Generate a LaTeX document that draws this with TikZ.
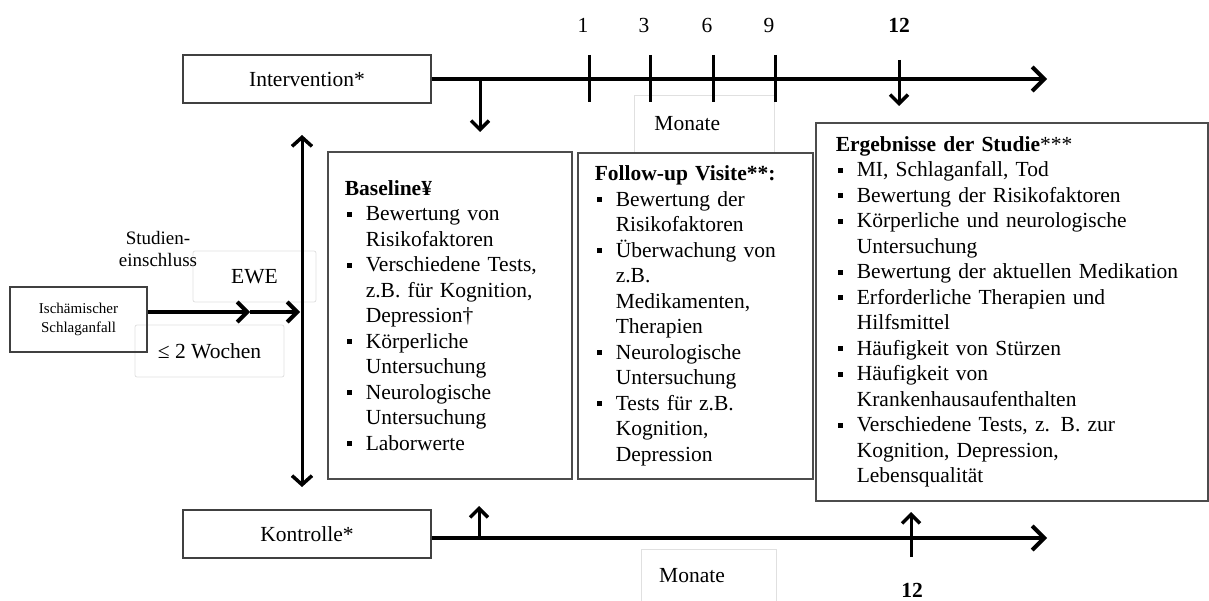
\documentclass[tikz,border=0pt]{standalone}
\usepackage{fontspec}
\setmainfont{Liberation Serif}
\usetikzlibrary{arrows.meta,positioning}

\newcommand{\bul}{\hspace*{2pt}\makebox[19pt][l]{\rule[4pt]{5pt}{5pt}}}
\newcommand{\ind}{\hspace*{21pt}}

\tikzset{
  txt/.style={font=\fontsize{21.5}{25.5}\selectfont},
  txtb/.style={font=\fontsize{21.5}{25.5}\selectfont\bfseries},
  bigbox/.style={txt, draw=black!70, line width=1.6pt, fill=white, anchor=north west, align=left, inner xsep=17pt, inner ysep=0pt},
  armbox/.style={txt, draw=black!75, line width=1.3pt, fill=white, minimum width=248pt, minimum height=48pt},
  softbox/.style={txt, draw=black!12, line width=0.8pt, rounded corners=2pt, fill=white},
  axis/.style={line width=4pt, -{Straight Barb[length=12pt,width=24pt,line width=4pt]}},
  pin/.style={line width=3pt, -{Straight Barb[length=9pt,width=18pt,line width=3.5pt]}},
  tick/.style={line width=3pt},
}

\begin{document}
\begin{tikzpicture}[x=1pt,y=-1pt]
\useasboundingbox (0,0) rectangle (1209,601);

% light boxes
\node[softbox, minimum width=123pt, minimum height=51pt] (ewe) at (254.5,276.5) {EWE};
\node[softbox, minimum width=149pt, minimum height=52pt] (woche) at (209.5,351) {≤ 2 Wochen};
\node[softbox, rounded corners=0pt, anchor=north west, minimum width=140pt, minimum height=57pt,
      text width=100pt, inner xsep=20pt, align=left] (mon1) at (634,95) {Monate};
\node[txt, anchor=north west, minimum width=135pt, minimum height=52pt,
      text width=99pt, inner xsep=18pt, align=left] (mon2) at (641,549) {Monate};
\draw[draw=black!12, line width=0.8pt] (mon2.south west) |- (mon2.north east) -- (mon2.south east);

% arms
\node[armbox] (int) at (307,79) {Intervention*};
\node[armbox] (kon) at (307,534) {Kontrolle*};
\coordinate (intend) at (1047,79);
\coordinate (konend) at (1047,538);
\draw[axis] (int.east) -- (intend);
\draw[axis] (kon.east |- konend) -- (konend);

% months
\foreach \x/\m in {589/1,650/3,713/6,775/9}{
  \node[txt] (m\m) at (\x-6,25) {\m};
  \draw[tick] (\x,55) -- (\x,102);
}
\node[txtb] (m12) at (899,25) {12};
\node[txtb] (b12) at (912,590) {12};

\coordinate (i0) at (480,79);
\coordinate (i0tip) at (480,132);
\coordinate (i12) at (899,60);
\coordinate (i12tip) at (899,106);
\coordinate (k0) at (479,538);
\coordinate (k0tip) at (479,506);
\coordinate (k12) at (911,557);
\coordinate (k12tip) at (911,512);
\draw[pin] (i0) -- (i0tip);
\draw[pin] (i12) -- (i12tip);
\draw[pin] (k0) -- (k0tip);
\draw[pin] (k12) -- (k12tip);

% entry
\node[draw=black!75, line width=1.3pt, minimum width=137pt, minimum height=65pt,
      font=\fontsize{15}{19}\selectfont, align=center] (isch) at (78.5,319.5) {Ischämischer\\Schlaganfall};
\node[font=\fontsize{19}{22}\selectfont, align=center] (einschl) at (158,249) {Studien-\\einschluss};
\coordinate (ewemid) at (250,312);
\coordinate (vin) at (300,312);
\coordinate (vtop) at (302,135);
\coordinate (vbot) at (302,487);
\draw[line width=3pt, {Straight Barb[length=9pt,width=20pt,line width=3.5pt]}-{Straight Barb[length=9pt,width=20pt,line width=3.5pt]}] (vtop) -- (vbot);
\draw[line width=3.5pt, -{Straight Barb[length=10pt,width=20pt,line width=4pt]}] (isch.east |- ewemid) -- (ewemid);
\draw[line width=3.5pt, -{Straight Barb[length=10pt,width=20pt,line width=4pt]}] (ewemid) -- (vin);

% content boxes
\node[bigbox, minimum width=244pt, minimum height=327pt, text width=210pt] (base) at (327,151) {%
\textbf{Baseline¥}\\
\bul Bewertung von\\
\ind Risikofaktoren\\
\bul Verschiedene Tests,\\
\ind z.B. für Kognition,\\
\ind Depression†\\
\bul Körperliche\\
\ind Untersuchung\\
\bul Neurologische\\
\ind Untersuchung\\
\bul Laborwerte};

\node[bigbox, minimum width=235pt, minimum height=326pt, text width=201pt] (fup) at (577,152) {%
\textbf{Follow-up Visite**:}\\
\bul Bewertung der\\
\ind Risikofaktoren\\
\bul Überwachung von\\
\ind z.B.\\
\ind Medikamenten,\\
\ind Therapien\\
\bul Neurologische\\
\ind Untersuchung\\
\bul Tests für z.B.\\
\ind Kognition,\\
\ind Depression};

\node[bigbox, inner xsep=20pt, minimum width=392pt, minimum height=378pt, text width=352pt] (res) at (815,122) {%
\textbf{Ergebnisse der Studie}***\\
\bul MI, Schlaganfall, Tod\\
\bul Bewertung der Risikofaktoren\\
\bul Körperliche und neurologische\\
\ind Untersuchung\\
\bul Bewertung der aktuellen Medikation\\
\bul Erforderliche Therapien und\\
\ind Hilfsmittel\\
\bul Häufigkeit von Stürzen\\
\bul Häufigkeit von\\
\ind Krankenhausaufenthalten\\
\bul Verschiedene Tests, z. B. zur\\
\ind Kognition, Depression,\\
\ind Lebensqualität};
\end{tikzpicture}
\end{document}
